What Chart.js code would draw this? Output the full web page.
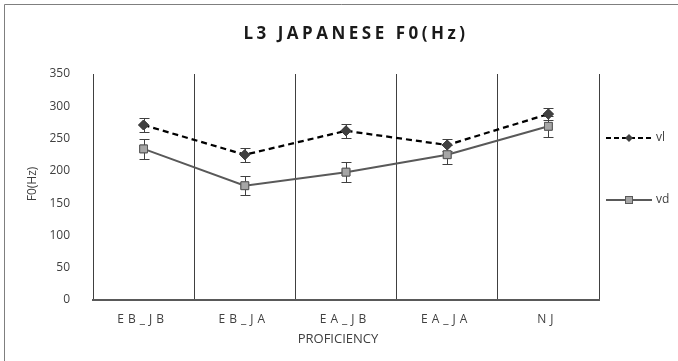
<!DOCTYPE html>
<html>
<head>
<meta charset="utf-8">
<script src="https://cdn.jsdelivr.net/npm/chart.js@4/dist/chart.umd.min.js"></script>
<style>
  html, body { margin: 0; padding: 0; background: #fff; }
  #wrap { width: 678px; height: 361px; position: relative; }
</style>
</head>
<body>
<div id="wrap"><canvas id="c" width="678" height="361"></canvas></div>
<script>
// Mean F0 per proficiency group, with error bar half-widths
const categories = ['EB_JB', 'EB_JA', 'EA_JB', 'EA_JA', 'NJ'];
const vlValues = [271, 225, 262, 240, 288];
const vlErrors = [11, 11, 11, 9, 10];
const vdValues = [234, 177, 198, 225, 269];
const vdErrors = [15, 15, 15, 15, 16];
const yTicks = [0, 50, 100, 150, 200, 250, 300, 350];

const FONT = '"Open Sans", "Liberation Sans", sans-serif';
const TEXT = '#404040';

// Draws error bars for every dataset that carries an `errors` array
const errorBars = {
  id: 'errorBars',
  afterDatasetsDraw(chart) {
    const ctx = chart.ctx;
    const y = chart.scales.y;
    chart.data.datasets.forEach((ds, i) => {
      const meta = chart.getDatasetMeta(i);
      ctx.save();
      ctx.strokeStyle = '#404040';
      ctx.lineWidth = 1;
      meta.data.forEach((pt, j) => {
        const v = ds.data[j], e = ds.errors[j];
        const yTop = Math.round(y.getPixelForValue(v + e)) + 0.5;
        const yBot = Math.round(y.getPixelForValue(v - e)) + 0.5;
        const x = Math.round(pt.x) + 0.5;
        ctx.beginPath();
        ctx.moveTo(x, yTop); ctx.lineTo(x, yBot);
        ctx.moveTo(x - 5, yTop); ctx.lineTo(x + 5, yTop);
        ctx.moveTo(x - 5, yBot); ctx.lineTo(x + 5, yBot);
        ctx.stroke();
      });
      ctx.restore();
      // redraw the markers on top of the bars
      meta.data.forEach(pt => pt.draw(ctx, chart.chartArea));
    });
  }
};

// Frame, title, category labels, axis titles and legend
const decorations = {
  id: 'decorations',
  afterDraw(chart) {
    const ctx = chart.ctx;
    const area = chart.chartArea;
    const x = chart.scales.x;
    ctx.save();

    // outer frame
    ctx.strokeStyle = '#7f7f7f';
    ctx.lineWidth = 1;
    ctx.beginPath();
    ctx.moveTo(4.5, 400); ctx.lineTo(4.5, 4.5); ctx.lineTo(700, 4.5);
    ctx.stroke();

    // title
    ctx.fillStyle = '#1a1a1a';
    ctx.textAlign = 'center';
    ctx.textBaseline = 'middle';
    ctx.font = 'bold 17px ' + FONT;
    ctx.letterSpacing = '3.5px';
    ctx.fillText('L3 JAPANESE F0(Hz)', 356, 34);

    // category labels
    ctx.fillStyle = TEXT;
    ctx.font = '12px ' + FONT;
    ctx.letterSpacing = '4px';
    categories.forEach((c, i) => {
      ctx.fillText(c, x.getPixelForValue(i) - 1, 320);
    });

    // axis titles
    ctx.letterSpacing = '0px';
    ctx.font = '13px ' + FONT;
    ctx.fillText('PROFICIENCY', (area.left + area.right) / 2 - 8, 339);
    ctx.save();
    ctx.translate(33, 184);
    ctx.rotate(-Math.PI / 2);
    ctx.font = '12px ' + FONT;
    ctx.fillText('F0(Hz)', 0, 0);
    ctx.restore();

    // legend
    const items = [
      { label: 'vl', y: 138, dash: [5, 3], color: '#000', width: 2, marker: 'diamond' },
      { label: 'vd', y: 200, dash: [], color: '#595959', width: 2, marker: 'square' }
    ];
    items.forEach(it => {
      ctx.strokeStyle = it.color;
      ctx.lineWidth = it.width;
      ctx.setLineDash(it.dash);
      ctx.beginPath();
      ctx.moveTo(606, it.y); ctx.lineTo(652, it.y);
      ctx.stroke();
      ctx.setLineDash([]);
      ctx.lineWidth = 1;
      if (it.marker === 'diamond') {
        ctx.fillStyle = '#404040';
        ctx.beginPath();
        ctx.moveTo(629, it.y - 4); ctx.lineTo(633, it.y);
        ctx.lineTo(629, it.y + 4); ctx.lineTo(625, it.y);
        ctx.closePath();
        ctx.fill();
      } else {
        ctx.fillStyle = '#a6a6a6';
        ctx.strokeStyle = '#595959';
        ctx.fillRect(625, it.y - 4, 8, 8);
        ctx.strokeRect(625.5, it.y - 3.5, 7, 7);
      }
      ctx.fillStyle = TEXT;
      ctx.textAlign = 'left';
      ctx.font = '12px ' + FONT;
      ctx.fillText(it.label, 656, it.y);
    });
    ctx.restore();
  }
};

new Chart(document.getElementById('c'), {
  type: 'line',
  data: {
    labels: categories,
    datasets: [
      {
        label: 'vl',
        data: vlValues,
        errors: vlErrors,
        borderColor: '#000',
        borderWidth: 2.25,
        borderDash: [6, 4],
        pointStyle: 'rectRot',
        pointRadius: 5,
        pointBackgroundColor: '#404040',
        pointBorderColor: '#404040',
        pointBorderWidth: 1,
        tension: 0
      },
      {
        label: 'vd',
        data: vdValues,
        errors: vdErrors,
        borderColor: '#595959',
        borderWidth: 2,
        pointStyle: 'rect',
        pointRadius: 5.5,
        pointBackgroundColor: '#a6a6a6',
        pointBorderColor: '#595959',
        pointBorderWidth: 1,
        tension: 0
      }
    ]
  },
  options: {
    responsive: false,
    animation: false,
    devicePixelRatio: 1,
    layout: { padding: { top: 74, right: 79, left: 0, bottom: 0 } },
    plugins: {
      legend: { display: false },
      title: { display: false },
      tooltip: { enabled: false }
    },
    scales: {
      x: {
        type: 'category',
        offset: true,
        grid: { display: true, offset: true, color: '#404040', lineWidth: 1, drawTicks: false },
        border: { display: true, color: '#595959', width: 2 },
        ticks: { display: false },
        afterFit(scale) { scale.height = 61; }
      },
      y: {
        min: 0,
        max: 350,
        afterBuildTicks(scale) { scale.ticks = yTicks.map(v => ({ value: v })); },
        grid: { display: false },
        border: { display: false },
        ticks: {
          color: TEXT,
          font: { family: FONT, size: 12 },
          padding: 15
        },
        afterFit(scale) { scale.width = 93; }
      }
    }
  },
  plugins: [errorBars, decorations]
});
</script>
</body>
</html>
